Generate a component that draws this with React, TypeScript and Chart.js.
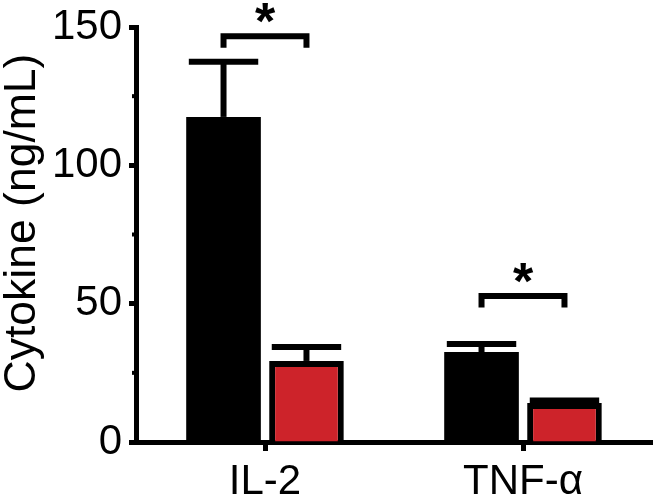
import React, { useEffect, useRef } from "react";
import { Chart, registerables } from "chart.js";

Chart.register(...registerables);

const categories = ["IL-2", "TNF-α"];
const controlValues = [117.5, 32.5];
const treatedValues = [29.3, 14.1];
const controlErrors = [19.9, 2.9];
const treatedErrors = [5.0, 0.9];
const bracketLevels = [146.7, 52.8];
const significanceLabels = ["*", "*"];
const yMajorTicks = [0, 50, 100, 150];
const yAxisTitle = "Cytokine (ng/mL)";

const FONT = "'Liberation Sans', Arial, Helvetica, sans-serif";
const RED = "#cd232a";
const BLACK = "#000000";

const errorBarPlugin = {
  id: "errorBars",
  afterDatasetsDraw(chart: any) {
    const ctx = chart.ctx;
    const yScale = chart.scales.y;
    const errs = [controlErrors, treatedErrors];
    const vals = [controlValues, treatedValues];
    ctx.save();
    ctx.strokeStyle = BLACK;
    ctx.lineCap = "butt";
    for (let d = 0; d < 2; d++) {
      const meta = chart.getDatasetMeta(d);
      meta.data.forEach((el: any, i: number) => {
        const top = yScale.getPixelForValue(vals[d][i]);
        const cap = yScale.getPixelForValue(vals[d][i] + errs[d][i]);
        const half = el.width * 0.465;
        ctx.lineWidth = 6;
        ctx.beginPath();
        ctx.moveTo(el.x, top);
        ctx.lineTo(el.x, cap);
        ctx.stroke();
        ctx.beginPath();
        ctx.moveTo(el.x - half, cap);
        ctx.lineTo(el.x + half, cap);
        ctx.stroke();
      });
    }
    // significance brackets
    const m0 = chart.getDatasetMeta(0);
    const m1 = chart.getDatasetMeta(1);
    ctx.font = `bold 52px ${FONT}`;
    ctx.textAlign = "center";
    ctx.textBaseline = "alphabetic";
    ctx.fillStyle = BLACK;
    bracketLevels.forEach((lvl, i) => {
      const x0 = m0.data[i].x;
      const x1 = m1.data[i].x;
      const y = yScale.getPixelForValue(lvl);
      const yLeg = yScale.getPixelForValue(lvl - 4.2);
      ctx.lineWidth = 6;
      ctx.lineJoin = "miter";
      ctx.beginPath();
      ctx.moveTo(x0, yLeg);
      ctx.lineTo(x0, y);
      ctx.lineTo(x1, y);
      ctx.lineTo(x1, yLeg);
      ctx.stroke();
      const label = significanceLabels[i];
      const m = ctx.measureText(label);
      const cy = y - 23;
      const base = cy + (m.actualBoundingBoxAscent - m.actualBoundingBoxDescent) / 2;
      ctx.fillText(label, (x0 + x1) / 2, base);
    });
    ctx.restore();
  },
  afterDraw(chart: any) {
    const ctx = chart.ctx;
    const yScale = chart.scales.y;
    const left = chart.chartArea.left;
    ctx.save();
    // minor ticks
    ctx.fillStyle = BLACK;
    for (let v = 25; v < 150; v += 50) {
      const py = yScale.getPixelForValue(v);
      ctx.fillRect(left - 4, py - 2, 3, 4);
    }
    // axis title
    const yc = 223;
    ctx.translate(35, yc);
    ctx.rotate(-Math.PI / 2);
    ctx.font = `44.5px ${FONT}`;
    ctx.textAlign = "center";
    ctx.textBaseline = "alphabetic";
    ctx.fillText(yAxisTitle, 0, 0);
    ctx.restore();
  },
};

export default function App() {
  const ref = useRef<HTMLCanvasElement | null>(null);
  useEffect(() => {
    if (!ref.current) return;
    const chart = new Chart(ref.current, {
      type: "bar",
      data: {
        labels: categories,
        datasets: [
          {
            label: "Control",
            data: controlValues,
            backgroundColor: BLACK,
            borderWidth: 0,
            barPercentage: 0.9,
            categoryPercentage: 0.643,
          },
          {
            label: "Treated",
            data: treatedValues,
            backgroundColor: RED,
            borderColor: BLACK,
            borderWidth: 6,
            borderSkipped: "bottom",
            barPercentage: 0.9,
            categoryPercentage: 0.643,
          },
        ],
      },
      options: {
        animation: false,
        responsive: true,
        maintainAspectRatio: false,
        layout: { padding: { top: 27, right: 3, left: 0, bottom: 0 } },
        plugins: {
          legend: { display: false },
          tooltip: { enabled: false },
          title: { display: false },
        },
        scales: {
          x: {
            z: 1,
            offset: true,
            grid: {
              display: true,
              drawOnChartArea: false,
              offset: false,
              tickLength: 9,
              tickWidth: 5,
              tickColor: BLACK,
            },
            border: { display: true, width: 5, color: BLACK },
            ticks: {
              color: BLACK,
              font: { family: FONT, size: 42 },
              padding: 6,
            },
            afterFit: (scale: any) => {
              scale.height = 55;
            },
          },
          y: {
            z: 1,
            min: 0,
            max: 150,
            afterBuildTicks: (scale: any) => {
              scale.ticks = yMajorTicks.map((v) => ({ value: v }));
            },
            grid: {
              display: true,
              drawOnChartArea: false,
              tickLength: 7,
              tickWidth: 5,
              tickColor: BLACK,
            },
            border: { display: true, width: 5, color: BLACK },
            ticks: {
              color: BLACK,
              font: { family: FONT, size: 42, lineHeight: 0.8 },
              padding: 7,
              autoSkip: false,
            },
            afterFit: (scale: any) => {
              scale.width = 136;
            },
          },
        },
      },
      plugins: [errorBarPlugin],
    });
    return () => chart.destroy();
  }, []);
  return (
    <div style={{ position: "absolute", left: 0, top: 0, width: 655, height: 497, background: "#fff" }}>
      <canvas ref={ref} />
    </div>
  );
}
